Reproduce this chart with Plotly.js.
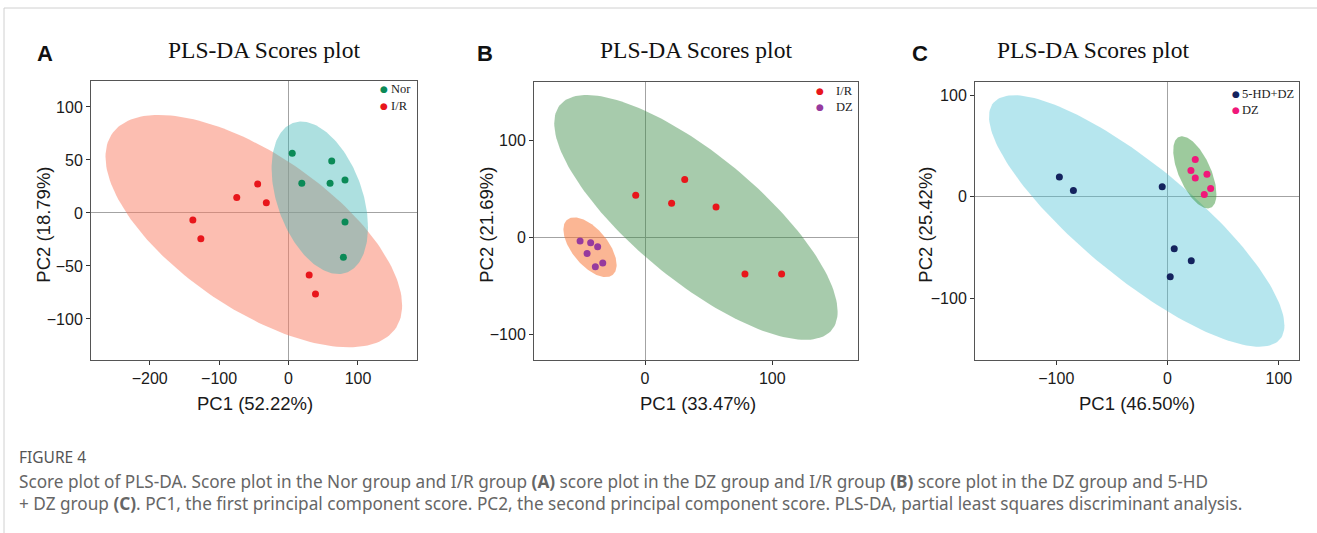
<!DOCTYPE html>
<html>
<head>
<meta charset="utf-8">
<script src="https://cdn.plot.ly/plotly-3.0.1.min.js"></script>
<style>
  html, body { margin: 0; padding: 0; background: #fff; }
  #chart { width: 1317px; height: 533px; }
</style>
</head>
<body>
<div id="chart"></div>
<script>
// ---------- data ----------
// Panel A: Nor vs I/R
const norA_x = [5.3, 62.2, 19.1, 59.8, 81.3, 81.3, 79];
const norA_y = [56.3, 49, 28, 28, 31.1, -8.5, -41.8];
const irA_x  = [-44.5, -74.6, -32, -137.8, -126.3, 29.7, 38.8];
const irA_y  = [27.4, 14.5, 9.7, -6.6, -24.2, -58.5, -76.4];
// Panel B: I/R vs DZ
const irB_x  = [-7.3, 20.9, 31.2, 55.8, 78.5, 107.3];
const irB_y  = [43.5, 35.2, 59.8, 31.4, -38, -38];
const dzB_x  = [-51, -42.7, -37.2, -45.5, -33.2, -39];
const dzB_y  = [-3.8, -5.5, -9.7, -16.6, -26.6, -30.4];
// Panel C: 5-HD+DZ vs DZ
const hdC_x  = [-97.2, -84.6, -4.8, 6, 21.3, 2.4];
const hdC_y  = [19.7, 6.2, 9.9, -51.2, -63.1, -78.8];
const dzC_x  = [24.9, 21, 24.9, 35.4, 38.7, 33];
const dzC_y  = [36.8, 25.9, 18.7, 22.3, 8.2, 2.3];

// Confidence ellipses: [centre x, centre y, half-width x, half-height y, cos(phase)]
const ellA_IR  = [-50, -17.1, 213.6, 109.6, -0.64];
const ellA_Nor = [45, 14.3, 69.4, 71.9, -0.385];
const ellB_IR  = [40, 20.6, 111.3, 126.6, -0.77];
const ellB_DZ  = [-43.2, -10.2, 20.9, 30.9, -0.59];
const ellC_HD  = [-27.7, -23.8, 132.7, 124, -0.83];
const ellC_DZ  = [24.5, 24.2, 19.4, 35.6, -0.6];

// Labels
const panelLetters = ["A", "B", "C"];
const panelTitle = "PLS-DA Scores plot";
const xTitles = ["PC1 (52.22%)", "PC1 (33.47%)", "PC1 (46.50%)"];
const yTitles = ["PC2 (18.79%)", "PC2 (21.69%)", "PC2 (25.42%)"];
const legendA = ["Nor", "I/R"];
const legendB = ["I/R", "DZ"];
const legendC = ["5-HD+DZ", "DZ"];
const xTicksA = [-200, -100, 0, 100], yTicksA = [-100, -50, 0, 50, 100];
const xTicksB = [0, 100],             yTicksB = [-100, 0, 100];
const xTicksC = [-100, 0, 100],       yTicksC = [-100, 0, 100];
const captionHead = "FIGURE 4";
const captionLine1 = "Score plot of PLS-DA. Score plot in the Nor group and I/R group <b>(A)</b> score plot in the DZ group and I/R group <b>(B)</b> score plot in the DZ group and 5-HD";
const captionLine2 = "+ DZ group <b>(C)</b>. PC1, the first principal component score. PC2, the second principal component score. PLS-DA, partial least squares discriminant analysis.";

// ---------- styling ----------
const W = 1317, H = 533;
const C = {
  nor: "#0b8a57", ir: "#e8161b", dzB: "#963a9e", hd: "#14235e", dzC: "#f0187a",
  fA_IR: "rgba(250,126,100,0.5)", fA_Nor: "rgba(60,180,182,0.42)",
  fB_IR: "rgba(60,140,70,0.45)", fB_DZ: "rgba(248,122,60,0.55)",
  fC_HD: "rgba(80,195,215,0.42)", fC_DZ: "rgba(60,150,60,0.5)"
};

function ellipse(p, xa, ya, fill) {
  const [cx, cy, a, b, c] = p;
  const phi = Math.acos(c);
  const xs = [], ys = [];
  for (let i = 0; i <= 180; i++) {
    const t = 2 * Math.PI * i / 180;
    xs.push(cx + a * Math.cos(t));
    ys.push(cy + b * Math.cos(t - phi));
  }
  return { x: xs, y: ys, xaxis: xa, yaxis: ya, type: "scatter", mode: "lines",
           fill: "toself", fillcolor: fill, line: { width: 0, color: "rgba(0,0,0,0)" },
           hoverinfo: "skip", showlegend: false };
}
function pts(x, y, xa, ya, color, name) {
  return { x, y, xaxis: xa, yaxis: ya, type: "scatter", mode: "markers", name,
           marker: { size: 7, color, line: { width: 0 } }, showlegend: false };
}

const traces = [
  ellipse(ellA_IR, "x", "y", C.fA_IR),
  ellipse(ellA_Nor, "x", "y", C.fA_Nor),
  pts(norA_x, norA_y, "x", "y", C.nor, legendA[0]),
  pts(irA_x, irA_y, "x", "y", C.ir, legendA[1]),
  ellipse(ellB_IR, "x2", "y2", C.fB_IR),
  ellipse(ellB_DZ, "x2", "y2", C.fB_DZ),
  pts(irB_x, irB_y, "x2", "y2", C.ir, legendB[0]),
  pts(dzB_x, dzB_y, "x2", "y2", C.dzB, legendB[1]),
  ellipse(ellC_HD, "x3", "y3", C.fC_HD),
  ellipse(ellC_DZ, "x3", "y3", C.fC_DZ),
  pts(hdC_x, hdC_y, "x3", "y3", C.hd, legendC[0]),
  pts(dzC_x, dzC_y, "x3", "y3", C.dzC, legendC[1])
];

// pixel boxes of the three plot areas: [left, top, right, bottom]
const boxes = [[91, 81, 417, 360], [534, 82, 858, 360], [975, 82, 1299, 360]];
const xr = [[-284.5, 185], [-87.2, 167.3], [-173, 118.1]];
const yr = [[-138.7, 124.5], [-126.8, 160.6], [-160.9, 113.3]];
const xt = [xTicksA, xTicksB, xTicksC];
const yt = [yTicksA, yTicksB, yTicksC];

const tickFont = { family: "Liberation Sans, Arial, sans-serif", size: 16, color: "#1a1a1a" };
const layout = {
  width: W, height: H, margin: { l: 0, r: 0, t: 0, b: 0 },
  paper_bgcolor: "#fff", plot_bgcolor: "#fff", showlegend: false,
  annotations: [], shapes: []
};
const px = v => v / W, py = v => 1 - v / H;

boxes.forEach((b, i) => {
  const s = i === 0 ? "" : String(i + 1);
  const common = {
    showgrid: false, zeroline: true, zerolinecolor: "#a3a3a3", zerolinewidth: 1,
    showline: true, mirror: true, linecolor: "#555", linewidth: 1,
    ticks: "outside", ticklen: 4, tickcolor: "#333", tickwidth: 1,
    tickfont: tickFont, tickmode: "array", fixedrange: true
  };
  layout["xaxis" + s] = Object.assign({}, common, {
    domain: [px(b[0]), px(b[2])], range: xr[i], tickvals: xt[i], anchor: "y" + s
  });
  layout["yaxis" + s] = Object.assign({}, common, {
    domain: [py(b[3]), py(b[1])], range: yr[i], tickvals: yt[i], anchor: "x" + s
  });
});

function ann(text, x, y, font, opts) {
  layout.annotations.push(Object.assign({
    text, x: px(x), y: py(y), xref: "paper", yref: "paper", showarrow: false,
    xanchor: "center", yanchor: "middle", font
  }, opts || {}));
}
const serif = "Liberation Serif, Times New Roman, serif";
const sans = "Liberation Sans, Arial, sans-serif";

// panel letters & titles
[[44.5, 53], [484.5, 53], [920, 53]].forEach((p, i) =>
  ann("<b>" + panelLetters[i] + "</b>", p[0], p[1], { family: sans, size: 22, color: "#111" }));
[[264, 50], [695.5, 50], [1093, 50]].forEach(p =>
  ann(panelTitle, p[0], p[1], { family: serif, size: 23.5, color: "#111" }));
// axis titles
[[255, 403], [698, 403], [1136.7, 403]].forEach((p, i) =>
  ann(xTitles[i], p[0], p[1], { family: sans, size: 18.5, color: "#1a1a1a" }));
[[42.7, 225], [485.8, 225], [924.7, 225]].forEach((p, i) =>
  ann(yTitles[i], p[0], p[1], { family: sans, size: 18.5, color: "#1a1a1a" }, { textangle: -90 }));

// legends (bullet + label)
function legend(items, colors, bx, tx, ys) {
  items.forEach((t, k) => {
    ann("●", bx, ys[k], { family: "DejaVu Sans", size: 9, color: colors[k] });
    ann(t, tx, ys[k], { family: serif, size: 12.5, color: "#222" }, { xanchor: "left" });
  });
}
legend(legendA, [C.nor, C.ir], 384.3, 389, [89.3, 106]);
legend(legendB, [C.ir, C.dzB], 820, 834, [90.7, 107.3]);
legend(legendC, [C.hd, C.dzC], 1236, 1239.5, [94, 110]);

// caption
const capFont = "Noto Sans, sans-serif";
ann(captionHead, 17, 456.5, { family: capFont, size: 15.5, color: "#555" }, { xanchor: "left" });
ann(captionLine1 + "<br>" + captionLine2, 17, 492.5, { family: capFont, size: 17.2, color: "#666" },
    { xanchor: "left", align: "left" });

// page frame lines
layout.shapes.push({ type: "line", xref: "paper", yref: "paper", x0: px(4), x1: 1, y0: py(8), y1: py(8), line: { color: "#d0d0d0", width: 1 } });
layout.shapes.push({ type: "line", xref: "paper", yref: "paper", x0: px(4), x1: px(4), y0: py(8), y1: 0, line: { color: "#d0d0d0", width: 1 } });

Plotly.newPlot("chart", traces, layout, { displayModeBar: false, staticPlot: true });
</script>
</body>
</html>
